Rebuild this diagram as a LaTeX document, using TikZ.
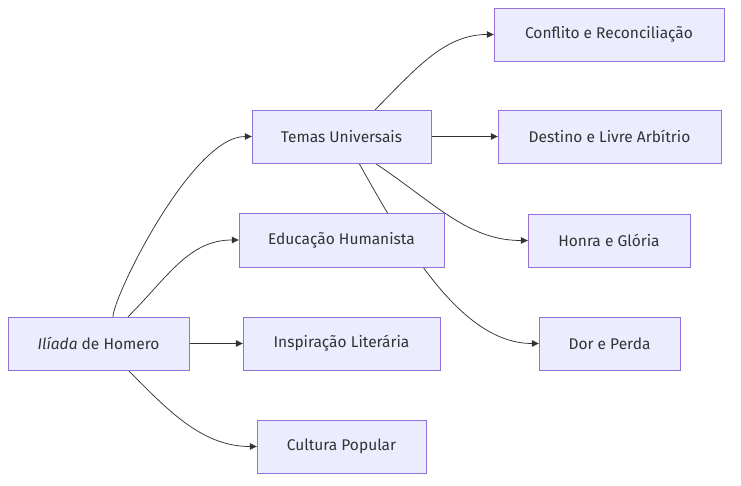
\documentclass[tikz,border=0pt]{standalone}
\usepackage{fontspec}
\setmainfont{Fira Sans}
\usetikzlibrary{arrows.meta}
\definecolor{nfill}{HTML}{ECECFF}
\definecolor{nborder}{HTML}{9370DB}
\definecolor{ntext}{HTML}{333333}
\definecolor{edge}{HTML}{333333}
\begin{document}
\begin{tikzpicture}[x=1pt,y=-1pt,
  box/.style={draw=nborder,fill=nfill,line width=0.9pt,text=ntext,font=\fontsize{15.5}{18}\selectfont,inner sep=0pt,anchor=center},
  link/.style={draw=edge,line width=0.75pt,-{Triangle[length=7pt,width=6.5pt]}}]
\useasboundingbox (0,0) rectangle (741,486);
% coordinates for node positions
\coordinate (pI) at (98.5,343.5);
\coordinate (pT) at (341.5,136.5);
\coordinate (pE) at (341.5,240);
\coordinate (pL) at (341.5,343.5);
\coordinate (pC) at (341.5,446.5);
\coordinate (pK) at (609,34.5);
\coordinate (pD) at (609.5,136.5);
\coordinate (pH) at (609,240.5);
\coordinate (pP) at (609.5,343.5);
% invisible placeholders for edge anchors
\node[minimum width=181pt,minimum height=53pt,inner sep=0pt] (I) at (pI) {};
\node[minimum width=179pt,minimum height=53pt,inner sep=0pt] (T) at (pT) {};
\node[minimum width=205pt,minimum height=54pt,inner sep=0pt] (E) at (pE) {};
\node[minimum width=197pt,minimum height=53pt,inner sep=0pt] (L) at (pL) {};
\node[minimum width=169pt,minimum height=53pt,inner sep=0pt] (C) at (pC) {};
\node[minimum width=230pt,minimum height=53pt,inner sep=0pt] (K) at (pK) {};
\node[minimum width=223pt,minimum height=53pt,inner sep=0pt] (D) at (pD) {};
\node[minimum width=162pt,minimum height=53pt,inner sep=0pt] (H) at (pH) {};
\node[minimum width=141pt,minimum height=53pt,inner sep=0pt] (P) at (pP) {};
% edges
\draw[link] ([xshift=14.5pt]I.north) .. controls +(0,-20) and +(-60,0) .. (T.west);
\draw[link] ([xshift=29.5pt]I.north) .. controls +(40,-40) and +(-50,0) .. (E.west);
\draw[link] (I.east) -- (L.west);
\draw[link] ([xshift=29.5pt]I.south) .. controls +(40,40) and +(-55,0) .. (C.west);
\draw[link] ([xshift=33.5pt]T.north) .. controls +(40,-40) and +(-50,0) .. (K.west);
\draw[link] (T.east) -- (D.west);
\draw[link] ([xshift=33.5pt]T.south) .. controls +(60,40) and +(-60,0) .. (H.west);
\draw[link] ([xshift=17.5pt]T.south) .. controls +(50,90) and +(-75,0) .. (P.west);
% visible nodes
\node[box,minimum width=181pt,minimum height=53pt] at (pI) {\textit{Ilíada} de Homero};
\node[box,minimum width=179pt,minimum height=53pt] at (pT) {Temas Universais};
\node[box,minimum width=205pt,minimum height=54pt] at (pE) {Educação Humanista};
\node[box,minimum width=197pt,minimum height=53pt] at (pL) {Inspiração Literária};
\node[box,minimum width=169pt,minimum height=53pt] at (pC) {Cultura Popular};
\node[box,minimum width=230pt,minimum height=53pt] at (pK) {Conflito e Reconciliação};
\node[box,minimum width=223pt,minimum height=53pt] at (pD) {Destino e Livre Arbítrio};
\node[box,minimum width=162pt,minimum height=53pt] at (pH) {Honra e Glória};
\node[box,minimum width=141pt,minimum height=53pt] at (pP) {Dor e Perda};
\end{tikzpicture}
\end{document}
